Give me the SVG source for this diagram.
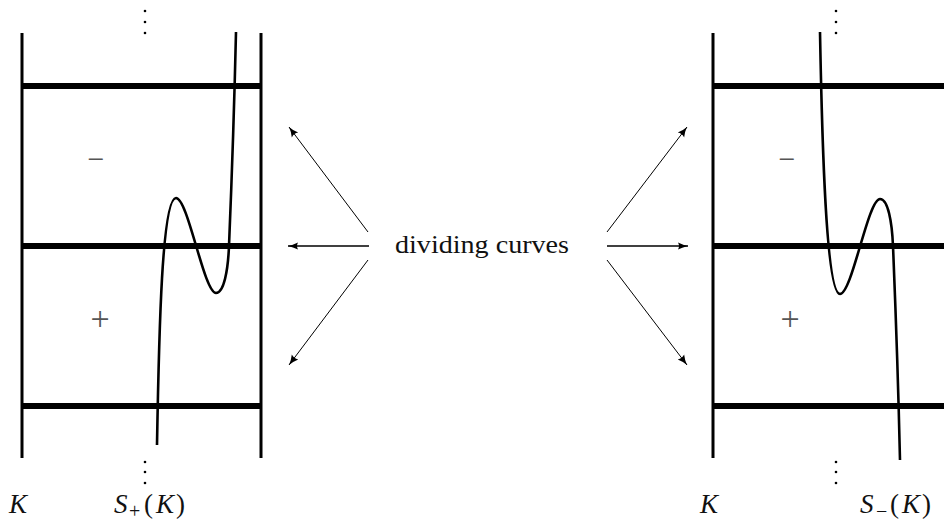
<svg xmlns="http://www.w3.org/2000/svg" width="944" height="521" viewBox="0 0 944 521">
<style>
.bg{fill:#fff}
.vert{stroke:#000;stroke-width:3;fill:none}
.hor{stroke:#000;stroke-width:6;fill:none}
.curve{stroke:#000;stroke-width:2.6;fill:none}
.arr{stroke:#000;stroke-width:1;fill:none;marker-end:url(#ah)}
.arrh{stroke:#000;stroke-width:1.6;fill:none;marker-end:url(#ah2)}
.dot{fill:#000}
.t{fill:#111}
.it{font-style:italic}
.sign{fill:#555}
</style>
<defs>
<marker id="ah" markerWidth="12" markerHeight="10" viewBox="0 0 12 10" refX="10" refY="5" orient="auto" markerUnits="userSpaceOnUse">
<path d="M0,1 Q5,4 10,5 Q5,6 0,9 Q2,5 0,1 Z" fill="#000"/>
</marker>
<marker id="ah2" markerWidth="12" markerHeight="10" viewBox="0 0 12 10" refX="10" refY="5" orient="auto" markerUnits="userSpaceOnUse">
<path d="M0,1.5 Q5,4 10,5 Q5,6 0,8.5 Q2,5 0,1.5 Z" fill="#000"/>
</marker>
</defs>
<rect class="bg" x="0" y="0" width="944" height="521"/>

<g id="left-panel">
<line class="vert" x1="22" y1="33" x2="22" y2="458"/>
<line class="vert" x1="261" y1="33" x2="261" y2="458"/>
<line class="hor" x1="22" y1="86" x2="261" y2="86"/>
<line class="hor" x1="22" y1="246" x2="261" y2="246"/>
<line class="hor" x1="22" y1="406" x2="261" y2="406"/>
<path class="curve" d="M157,445 C159,330 162,198 176,198 C188,198 204,293 216,293 C224,293 228,270 229,246 C230.5,210 234,120 236,32"/>
<circle class="dot" cx="145" cy="11" r="1.3"/>
<circle class="dot" cx="145" cy="22" r="1.3"/>
<circle class="dot" cx="145" cy="33" r="1.3"/>
<circle class="dot" cx="145" cy="462" r="1.3"/>
<circle class="dot" cx="145" cy="472" r="1.3"/>
<circle class="dot" cx="145" cy="483" r="1.3"/>
<text class="sign" x="96" y="169" text-anchor="middle" font-family="'Liberation Serif', serif" font-size="30">−</text>
<text class="sign" x="100" y="330" text-anchor="middle" font-family="'Liberation Serif', serif" font-size="34">+</text>
<text class="t it" x="9" y="513" font-family="'Liberation Serif', serif" font-size="27">K</text>
<text class="t" y="513" font-family="'Liberation Serif', serif" font-size="27"><tspan class="it" x="114">S</tspan><tspan x="129" y="518" font-size="20">+</tspan><tspan x="144" y="513">(</tspan><tspan class="it" x="156">K</tspan><tspan dx="2">)</tspan></text>
</g>

<g id="right-panel">
<line class="vert" x1="713" y1="33" x2="713" y2="458"/>
<line class="hor" x1="713" y1="86" x2="944" y2="86"/>
<line class="hor" x1="713" y1="246" x2="944" y2="246"/>
<line class="hor" x1="713" y1="406" x2="944" y2="406"/>
<path class="curve" d="M820,32 C822,140 826,294 840,294 C852,294 868,199 880,199 C888,199 892,222 893,246 C894.5,282 898,372 900,460"/>
<circle class="dot" cx="836" cy="11" r="1.3"/>
<circle class="dot" cx="836" cy="22" r="1.3"/>
<circle class="dot" cx="836" cy="33" r="1.3"/>
<circle class="dot" cx="836" cy="462" r="1.3"/>
<circle class="dot" cx="836" cy="472" r="1.3"/>
<circle class="dot" cx="836" cy="483" r="1.3"/>
<text class="sign" x="787" y="169" text-anchor="middle" font-family="'Liberation Serif', serif" font-size="30">−</text>
<text class="sign" x="790" y="330" text-anchor="middle" font-family="'Liberation Serif', serif" font-size="34">+</text>
<text class="t it" x="700" y="513" font-family="'Liberation Serif', serif" font-size="27">K</text>
<text class="t" y="513" font-family="'Liberation Serif', serif" font-size="27"><tspan class="it" x="860">S</tspan><tspan x="876" y="518" font-size="20">−</tspan><tspan x="890" y="513">(</tspan><tspan class="it" x="902">K</tspan><tspan dx="2">)</tspan></text>
</g>

<g id="label">
<text class="t" x="395" y="253" font-family="'Liberation Serif', serif" font-size="25" textLength="174" lengthAdjust="spacingAndGlyphs">dividing curves</text>
</g>

<g id="connectors">
<line class="arr" x1="368" y1="232" x2="289" y2="127"/>
<line class="arrh" x1="369" y1="246" x2="288" y2="246"/>
<line class="arr" x1="368" y1="260" x2="289" y2="365"/>
<line class="arr" x1="607" y1="232" x2="687" y2="127"/>
<line class="arrh" x1="607" y1="246" x2="688" y2="246"/>
<line class="arr" x1="607" y1="260" x2="687" y2="365"/>
</g>
</svg>
